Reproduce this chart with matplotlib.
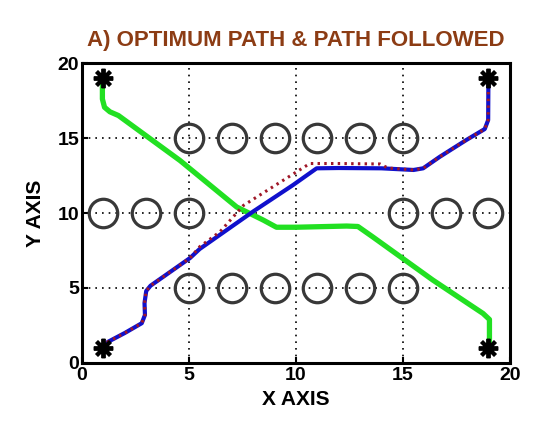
import matplotlib
matplotlib.use("Agg")
import matplotlib.pyplot as plt

plt.rcParams['font.family'] = ['Liberation Sans', 'DejaVu Sans']
plt.rcParams['font.weight'] = 'bold'

# Obstacles (circle centres)
obs_x = [5, 7, 9, 11, 13, 15, 1, 3, 5, 15, 17, 19, 5, 7, 9, 11, 13, 15]
obs_y = [15, 15, 15, 15, 15, 15, 10, 10, 10, 10, 10, 10, 5, 5, 5, 5, 5, 5]

# Start / goal points
star_x = [1, 19, 1, 19]
star_y = [19, 19, 1, 1]

# Path followed (robot 1, blue)
follow_x = [1.0, 1.2, 2.0, 2.79, 2.94, 2.92, 3.0, 3.2, 5.05, 5.5, 8.0, 9.87, 10.97, 12.0, 14.0, 15.5,
            15.95, 16.73, 17.97, 18.83, 18.99, 19.0, 19.0]
follow_y = [1.0, 1.4, 2.0, 2.65, 3.2, 4.0, 4.8, 5.15, 7.0, 7.6, 10.1, 11.87, 12.98, 13.0, 12.98, 12.87,
            12.98, 13.75, 14.87, 15.6, 16.2, 18.6, 19.0]

# Optimum path (robot 1, red dotted)
opt_x = [1.0, 1.2, 2.0, 2.79, 2.94, 2.92, 3.0, 3.2, 5.05, 5.5, 6.45, 7.54, 9.87, 10.65, 12.0, 13.93,
         14.3, 15.5, 15.95, 16.73, 17.97, 18.83, 18.99, 19.0, 19.0]
opt_y = [1.0, 1.4, 2.0, 2.65, 3.2, 4.0, 4.8, 5.15, 7.0, 7.75, 8.75, 10.5, 12.6, 13.3, 13.3, 13.27,
         13.0, 12.87, 12.98, 13.75, 14.87, 15.6, 16.2, 18.6, 19.0]

# Path of robot 2 (green)
green_x = [1.0, 0.95, 0.95, 1.05, 1.3, 1.7, 4.58, 7.23, 8.47, 9.09, 10.0, 12.37, 12.9, 13.6, 16.4, 18.75,
           19.05, 19.05, 19.0]
green_y = [19.0, 18.4, 17.6, 17.05, 16.75, 16.5, 13.5, 10.4, 9.53, 9.05, 9.05, 9.13, 9.1, 8.4, 5.53, 3.3,
           2.9, 1.5, 1.0]

ticks = [0, 5, 10, 15, 20]

fig = plt.figure(figsize=(5.4, 4.26), dpi=100)
ax = fig.add_axes([0.152, 0.148, 0.792, 0.704])

ax.plot(green_x, green_y, color='#22e022', lw=3.8, solid_capstyle='round', solid_joinstyle='round', zorder=3)
ax.plot(follow_x, follow_y, color='#1010cc', lw=3.0, solid_joinstyle='round', zorder=3)
ax.plot(opt_x, opt_y, color='#a01828', lw=2.2, ls=(0, (0.8, 1.4)), zorder=4)

ax.plot(obs_x, obs_y, ls='none', marker='o', ms=20.5, mfc='none', mec='#383838', mew=2.3, zorder=2)
ax.plot(star_x, star_y, ls='none', marker=(8, 2, 0), ms=14, mec='black', mfc='black', mew=2.8, zorder=5)

ax.set_xlim(0, 20)
ax.set_ylim(0, 20)
ax.set_xticks(ticks)
ax.set_yticks(ticks)
ax.set_xticklabels([str(t) for t in ticks])
ax.set_yticklabels([str(t) for t in ticks])
ax.tick_params(direction='in', length=4, width=1.5, labelsize=14)
ax.tick_params(axis='x', pad=3)
ax.tick_params(axis='y', pad=2)
for lab in ax.get_xticklabels() + ax.get_yticklabels():
    lab.set_fontweight('bold')
ax.grid(True, color='black', ls=(0, (1, 3)), lw=1.2)
for s in ax.spines.values():
    s.set_linewidth(2.2)

ax.set_xlabel('X AXIS', fontsize=15, fontweight='bold', labelpad=4)
ax.set_ylabel('Y AXIS', fontsize=15, fontweight='bold', labelpad=9)
ax.set_title('A) OPTIMUM PATH & PATH FOLLOWED', fontsize=16, fontweight='bold',
             color='#8c3c14', pad=12)

fig.savefig('out.png', dpi=100, facecolor='white')
